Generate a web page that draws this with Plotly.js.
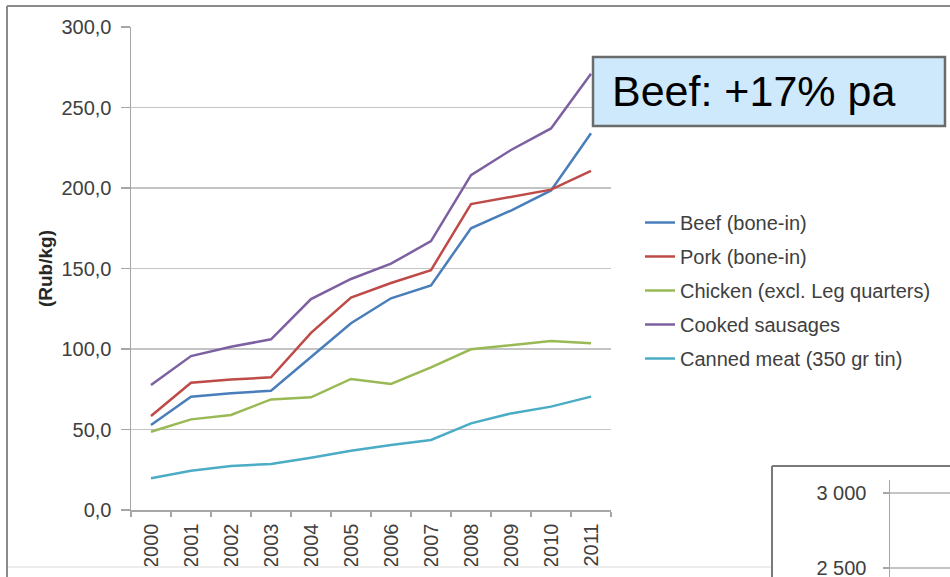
<!DOCTYPE html>
<html>
<head>
<meta charset="utf-8">
<script src="https://cdn.plot.ly/plotly-3.0.1.min.js"></script>
<style>
  html, body { margin: 0; padding: 0; background: #ffffff; }
  #chart { width: 950px; height: 577px; }
</style>
</head>
<body>
<div id="chart"></div>
<script>
// Retail meat prices in Russia, 2000-2011 (Rub/kg)
const years = ['2000','2001','2002','2003','2004','2005','2006','2007','2008','2009','2010','2011'];
const beef     = [52.8, 70.4, 72.5, 74.1, 95.0, 116.0, 131.5, 139.5, 175.0, 186.0, 198.5, 234.0];
const pork     = [58.4, 79.0, 81.0, 82.4, 110.0, 132.0, 141.0, 149.0, 190.0, 194.5, 199.0, 210.7];
const chicken  = [48.6, 56.3, 59.0, 68.7, 70.0, 81.4, 78.3, 88.6, 99.8, 102.5, 105.0, 103.5];
const sausages = [77.6, 95.6, 101.4, 106.0, 131.0, 143.5, 153.0, 167.0, 208.0, 223.6, 237.0, 271.0];
const canned   = [19.7, 24.4, 27.3, 28.6, 32.5, 36.8, 40.4, 43.5, 53.8, 60.0, 64.2, 70.4];

const seriesNames = ['Beef (bone-in)', 'Pork (bone-in)', 'Chicken (excl. Leg quarters)', 'Cooked sausages', 'Canned meat (350 gr tin)'];
const seriesValues = [beef, pork, chicken, sausages, canned];
const seriesColors = ['#4a7ebb', '#be4b48', '#98b954', '#7d60a0', '#4bacc6'];

const W = 950, H = 577;
const px = v => v / W;          // horizontal pixel -> paper
const py = v => 1 - v / H;      // vertical pixel -> paper

const FONT = 'Arial, "Liberation Sans", sans-serif';
const TXT = '#404040';
const FS = 20;

const traces = seriesValues.map((vals, i) => ({
  type: 'scatter',
  mode: 'lines',
  x: years,
  y: vals,
  name: seriesNames[i],
  legendgroup: 'g' + i,
  line: { color: seriesColors[i], width: 2.5 },
  hoverinfo: 'x+y+name'
}));

// second chart fragment in the lower-right corner (axes only)
traces.push({
  type: 'scatter', mode: 'lines', x: [], y: [],
  xaxis: 'x2', yaxis: 'y2', showlegend: false, hoverinfo: 'skip'
});

const frame = '#8a8a8a';
const layout = {
  width: W, height: H,
  margin: { l: 0, r: 0, t: 0, b: 0 },
  paper_bgcolor: '#ffffff',
  plot_bgcolor: '#ffffff',
  separators: ', ',
  font: { family: FONT, size: FS, color: TXT },
  showlegend: true,
  legend: {
    x: px(640), y: py(203), xanchor: 'left', yanchor: 'top',
    traceorder: 'grouped', tracegroupgap: 5,
    font: { family: FONT, size: FS, color: TXT },
    bgcolor: 'rgba(0,0,0,0)', borderwidth: 0
  },
  xaxis: {
    type: 'category',
    domain: [px(131), px(611)],
    range: [-0.5, 11.5],
    showgrid: false,
    showline: true, linecolor: '#a6a6a6', linewidth: 1.5,
    ticks: 'outside', tickson: 'boundaries', ticklen: 5, tickcolor: '#a6a6a6', tickwidth: 1.5,
    tickangle: -90,
    ticklabelstandoff: 4,
    tickfont: { family: FONT, size: FS, color: TXT },
    fixedrange: true
  },
  yaxis: {
    domain: [py(510), py(27)],
    range: [0, 300],
    dtick: 50,
    tickformat: '.1f',
    showgrid: true, gridcolor: '#c4c4c4', gridwidth: 1.5,
    zeroline: false,
    showline: true, linecolor: '#a6a6a6', linewidth: 1.5,
    ticks: 'outside', ticklen: 9, tickcolor: '#a6a6a6', tickwidth: 1.5,
    ticklabelstandoff: 5,
    tickfont: { family: FONT, size: FS, color: TXT },
    title: { text: '<b>(Rub/kg)</b>', font: { family: FONT, size: 19, color: '#262626' }, standoff: 4 },
    fixedrange: true
  },
  xaxis2: {
    domain: [px(890), 1],
    anchor: 'y2',
    range: [0, 1],
    showgrid: false, showticklabels: false, zeroline: false, showline: false, ticks: '',
    fixedrange: true
  },
  yaxis2: {
    domain: [0, py(480)],
    anchor: 'x2',
    range: [2440, 3086.7],
    tickvals: [2500, 3000],
    tickformat: ',d',
    showgrid: true, gridcolor: '#c4c4c4', gridwidth: 1.5,
    zeroline: false,
    showline: true, linecolor: '#a6a6a6', linewidth: 1.5,
    ticks: 'outside', ticklen: 6, tickcolor: '#a6a6a6', tickwidth: 1.5,
    ticklabelstandoff: 12,
    ticklabeloverflow: 'allow',
    tickfont: { family: FONT, size: FS, color: TXT },
    fixedrange: true
  },
  shapes: [
    // outer frame of the main chart
    { type: 'line', xref: 'paper', yref: 'paper', x0: px(7), x1: 1, y0: py(6), y1: py(6), line: { color: frame, width: 2 } },
    { type: 'line', xref: 'paper', yref: 'paper', x0: px(7), x1: px(7), y0: py(6), y1: 0, line: { color: frame, width: 2 } },
    { type: 'line', xref: 'paper', yref: 'paper', x0: px(8), x1: px(771), y0: py(567), y1: py(567), line: { color: '#ececec', width: 2 } },
    // frame of the chart below
    { type: 'line', xref: 'paper', yref: 'paper', x0: px(772), x1: 1, y0: py(466), y1: py(466), line: { color: '#7a7a7a', width: 2 } },
    { type: 'line', xref: 'paper', yref: 'paper', x0: px(772), x1: px(772), y0: py(466), y1: 0, line: { color: '#7a7a7a', width: 2 } },
    // callout box
    { type: 'rect', xref: 'paper', yref: 'paper', x0: px(593), x1: px(945), y0: py(126), y1: py(57),
      fillcolor: '#cde9fb', line: { color: '#6b6b6b', width: 2.5 }, layer: 'above' }
  ],
  annotations: [
    { xref: 'paper', yref: 'paper', x: px(610), y: py(91), xanchor: 'left', yanchor: 'middle',
      text: 'Beef: +17% pa', showarrow: false,
      font: { family: FONT, size: 43, color: '#000000' } }
  ]
};

Plotly.newPlot('chart', traces, layout, { displayModeBar: false, staticPlot: true });
</script>
</body>
</html>
